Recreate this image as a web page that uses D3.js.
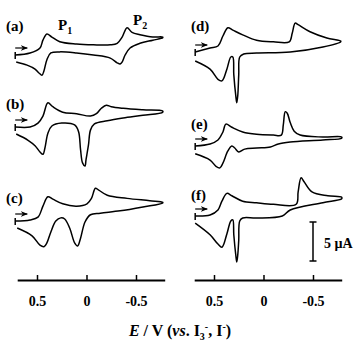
<!DOCTYPE html>
<html>
<head>
<meta charset="utf-8">
<script src="https://cdn.jsdelivr.net/npm/d3@7"></script>
<style>
  html, body { margin: 0; padding: 0; background: #fff; }
  svg { display: block; font-family: "Liberation Serif", "Times New Roman", serif; }
</style>
</head>
<body>
<svg id="chart" width="361" height="345"></svg>
<script>
// potential E (V vs I3-/I-) and current I (uA)
// forward scan (upper branch) and return scan (lower branch)
const aFwd = [[0.72,0],[0.57,0.26],[0.47,0.9],[0.44,1.9],[0.40,2.7],[0.35,2.3],[0.27,1.7],[0.10,1.4],[-0.07,1.3],[-0.24,1.3],[-0.31,1.5],[-0.36,2.3],[-0.41,3.5],[-0.46,2.9],[-0.54,2.6],[-0.67,2.3],[-0.77,2.3]]
const aRev = [[-0.77,2.2],[-0.67,1.9],[-0.54,1.5],[-0.44,0.9],[-0.39,0],[-0.36,-0.9],[-0.34,-1.15],[-0.31,-1.0],[-0.24,-0.4],[-0.07,0],[0.10,0.26],[0.27,0.4],[0.36,0.26],[0.40,-0.6],[0.43,-2.05],[0.45,-2.6],[0.48,-2.3],[0.52,-1.8],[0.60,-1.3],[0.71,-0.9]]

const bFwd = [[0.72,0],[0.57,0],[0.49,0.5],[0.44,1.4],[0.39,3.1],[0.34,2.6],[0.24,1.9],[0.10,1.7],[-0.04,1.4],[-0.10,1.7],[-0.15,2.4],[-0.20,2.8],[-0.25,2.6],[-0.37,2.4],[-0.57,2.2],[-0.77,2.05]]
const bRev = [[-0.77,1.9],[-0.57,1.5],[-0.37,1.15],[-0.21,0.8],[-0.08,0.4],[-0.04,-0.4],[-0.02,-2.3],[0.005,-4.2],[0.015,-5.0],[0.04,-4.6],[0.06,-2.9],[0.08,-0.6],[0.12,0.26],[0.25,0.5],[0.35,0.13],[0.39,-0.8],[0.42,-2.7],[0.44,-3.5],[0.47,-3.2],[0.52,-2.4],[0.59,-1.7],[0.71,-0.9]]

const cFwd = [[0.72,0],[0.57,0.13],[0.49,0.5],[0.44,1.9],[0.39,3.1],[0.34,2.8],[0.24,2.2],[0.10,1.9],[-0.005,2.2],[-0.05,2.9],[-0.09,4.2],[-0.12,4.0],[-0.21,3.3],[-0.41,2.9],[-0.64,2.6],[-0.77,2.4]]
const cRev = [[-0.77,2.3],[-0.57,1.8],[-0.34,1.3],[-0.14,1.0],[-0.04,0.8],[0.015,-0.13],[0.06,-2.2],[0.09,-3.2],[0.12,-2.8],[0.17,-0.9],[0.22,0.26],[0.26,0.4],[0.31,0],[0.36,-1.4],[0.40,-2.8],[0.43,-3.3],[0.47,-3.1],[0.55,-1.9],[0.70,-0.9]]

const dFwd = [[0.69,0],[0.54,0.5],[0.46,0.77],[0.41,2.05],[0.36,3.1],[0.31,2.8],[0.21,2.2],[0.07,1.5],[-0.10,1.3],[-0.26,1.3],[-0.29,2.4],[-0.32,3.7],[-0.35,3.5],[-0.47,2.6],[-0.64,1.8],[-0.78,1.4]]
const dRev = [[-0.78,1.3],[-0.60,0.64],[-0.27,0],[0.07,-0.13],[0.20,-0.26],[0.24,-0.64],[0.25,-2.9],[0.26,-5.6],[0.27,-6.5],[0.28,-5.6],[0.30,-2.9],[0.31,-0.64],[0.33,-0.64],[0.37,-2.2],[0.42,-3.7],[0.46,-3.5],[0.54,-2.2],[0.69,-1.15]]

const eFwd = [[0.69,0],[0.54,0.26],[0.46,0.77],[0.41,1.8],[0.38,2.8],[0.32,2.4],[0.21,1.8],[0.07,1.5],[-0.10,1.4],[-0.18,1.4],[-0.20,2.7],[-0.22,4.4],[-0.24,4.2],[-0.27,3.0],[-0.31,1.9],[-0.37,1.4],[-0.60,1.15],[-0.79,1.15]]
const eRev = [[-0.79,1.0],[-0.60,0.77],[-0.27,0.5],[-0.15,0.26],[-0.07,-0.13],[0.07,-0.26],[0.19,-0.4],[0.25,-0.77],[0.29,-0.26],[0.32,0],[0.36,-0.64],[0.41,-2.2],[0.44,-2.8],[0.48,-2.6],[0.54,-1.8],[0.69,-1.0]]

const fFwd = [[0.69,0],[0.54,0.13],[0.46,0.77],[0.42,1.9],[0.37,2.9],[0.32,2.6],[0.21,1.9],[0.07,1.7],[-0.10,1.5],[-0.33,1.5],[-0.35,3.1],[-0.38,4.9],[-0.41,4.4],[-0.49,3.1],[-0.65,2.6],[-0.79,2.4]]
const fRev = [[-0.79,2.2],[-0.60,1.7],[-0.27,0.77],[-0.19,0],[0.07,-0.26],[0.21,-0.26],[0.24,-0.64],[0.25,-3.1],[0.26,-5.0],[0.27,-5.9],[0.28,-5.0],[0.30,-2.4],[0.31,-0.5],[0.33,-0.64],[0.37,-2.3],[0.42,-4.0],[0.46,-3.6],[0.54,-2.4],[0.69,-0.9]]

const panelNames = ["(a)", "(b)", "(c)", "(d)", "(e)", "(f)"]
const xTicks = [0.5, 0, -0.5]
const xTickLabels = ["0.5", "0", "-0.5"]
const xDomain = [0.7, -0.79]
const scaleBarValue = 5 // uA

const pxPerUA = 7.8
const svg = d3.select("#chart")

const cols = [
  { x: d3.scaleLinear().domain(xDomain).range([17.2, 164.7]), labelX: 6 },
  { x: d3.scaleLinear().domain(xDomain).range([194.2, 341.7]), labelX: 191 }
]

const panels = [
  { name: panelNames[0], col: 0, y0: 55, labelY: 31, fwd: aFwd, rev: aRev },
  { name: panelNames[1], col: 0, y0: 127, labelY: 109, fwd: bFwd, rev: bRev },
  { name: panelNames[2], col: 0, y0: 221, labelY: 203, fwd: cFwd, rev: cRev },
  { name: panelNames[3], col: 1, y0: 52, labelY: 31, fwd: dFwd, rev: dRev },
  { name: panelNames[4], col: 1, y0: 146, labelY: 129, fwd: eFwd, rev: eRev },
  { name: panelNames[5], col: 1, y0: 216, labelY: 200, fwd: fFwd, rev: fRev }
]

svg.append("defs").append("marker")
  .attr("id", "ah")
  .attr("viewBox", "0 0 10 10")
  .attr("refX", 9).attr("refY", 5)
  .attr("markerWidth", 6).attr("markerHeight", 6)
  .attr("orient", "auto")
  .append("path")
  .attr("d", "M0,1 L10,5 L0,9 L3,5 Z")
  .attr("fill", "#000")

panels.forEach(p => {
  const x = cols[p.col].x
  const y = d3.scaleLinear().domain([0, 1]).range([p.y0, p.y0 - pxPerUA])
  const line = d3.line()
    .x(d => x(d[0]))
    .y(d => y(d[1]))
    .curve(d3.curveCatmullRom.alpha(0.5))

  const g = svg.append("g")
  g.append("path").datum(p.fwd.concat(p.rev))
    .attr("d", line)
    .attr("fill", "none")
    .attr("stroke", "#000")
    .attr("stroke-width", 1.5)

  // start marker + scan direction arrow
  const s = p.fwd[0]
  const sx = x(s[0]), sy = y(s[1])
  g.append("line")
    .attr("x1", sx).attr("x2", sx)
    .attr("y1", sy - 3).attr("y2", sy + 4)
    .attr("stroke", "#000").attr("stroke-width", 1.5)
  g.append("line")
    .attr("x1", sx).attr("x2", sx + 12)
    .attr("y1", sy - 7).attr("y2", sy - 7)
    .attr("stroke", "#000").attr("stroke-width", 1.2)
    .attr("marker-end", "url(#ah)")

  g.append("text")
    .attr("x", cols[p.col].labelX)
    .attr("y", p.labelY)
    .attr("font-size", 15)
    .attr("font-weight", "bold")
    .text(p.name)
})

// peak labels on (a)
function peakLabel(txt, sub, px, py) {
  const t = svg.append("text")
    .attr("x", px).attr("y", py)
    .attr("font-size", 15).attr("font-weight", "bold")
  t.append("tspan").text(txt)
  t.append("tspan").attr("dy", 4).attr("font-size", 10).text(sub)
}
peakLabel("P", "1", 58, 30)
peakLabel("P", "2", 133, 25)

// x axes
cols.forEach(c => {
  const axis = d3.axisBottom(c.x)
    .tickValues(xTicks)
    .tickFormat((d, i) => xTickLabels[i])
    .tickSize(-5)
    .tickPadding(16)
    .tickSizeOuter(0)
  const ax = svg.append("g")
    .attr("transform", "translate(0,280)")
    .call(axis)
  ax.select(".domain").attr("stroke-width", 2)
  ax.selectAll(".tick line").attr("stroke-width", 1.5)
  ax.selectAll("text")
    .attr("font-family", "Liberation Serif, serif")
    .attr("font-size", 14)
    .attr("font-weight", "bold")
    .attr("fill", "#000")
})

// scale bar
const sbX = 313, sbBottom = 261
const sbTop = sbBottom - scaleBarValue * pxPerUA
const sb = svg.append("g").attr("stroke", "#000").attr("stroke-width", 1.5)
sb.append("line").attr("x1", sbX).attr("x2", sbX).attr("y1", sbTop).attr("y2", sbBottom)
sb.append("line").attr("x1", sbX - 3.5).attr("x2", sbX + 3.5).attr("y1", sbTop).attr("y2", sbTop)
sb.append("line").attr("x1", sbX - 3.5).attr("x2", sbX + 3.5).attr("y1", sbBottom).attr("y2", sbBottom)
svg.append("text")
  .attr("x", 324).attr("y", 248)
  .attr("font-size", 14).attr("font-weight", "bold")
  .text(scaleBarValue + " \u00b5A")

// axis title
const title = svg.append("text")
  .attr("x", 180).attr("y", 336)
  .attr("text-anchor", "middle")
  .attr("font-size", 16).attr("font-weight", "bold")
title.append("tspan").attr("font-style", "italic").text("E")
title.append("tspan").text(" / V (")
title.append("tspan").attr("font-style", "italic").text("vs")
title.append("tspan").text(". I")
title.append("tspan").attr("font-size", 10).attr("dy", 4).text("3")
title.append("tspan").attr("font-size", 10).attr("dy", -10).text("-")
title.append("tspan").attr("dy", 6).text(", I")
title.append("tspan").attr("font-size", 10).attr("dy", -6).text("-")
title.append("tspan").attr("dy", 6).text(")")
</script>
</body>
</html>
